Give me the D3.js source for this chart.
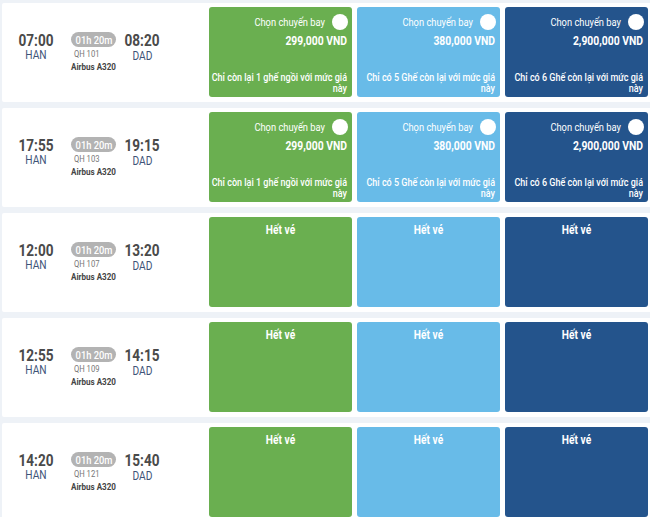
<!DOCTYPE html>
<html>
<head>
<meta charset="utf-8">
<script src="https://cdn.jsdelivr.net/npm/d3@7"></script>
<style>
  html, body { margin: 0; padding: 0; background: #eef2f7; overflow: hidden; }
  svg { display: block; }
  text { font-family: Roboto, "Noto Sans", sans-serif; }
</style>
</head>
<body>
<script>
// ---- data ----
const departTimes = ["07:00", "17:55", "12:00", "12:55", "14:20"];
const arriveTimes = ["08:20", "19:15", "13:20", "14:15", "15:40"];
const origin = "HAN";
const destination = "DAD";
const durations = ["01h 20m", "01h 20m", "01h 20m", "01h 20m", "01h 20m"];
const flightCodes = ["QH 101", "QH 103", "QH 107", "QH 109", "QH 121"];
const aircraft = ["Airbus A320", "Airbus A320", "Airbus A320", "Airbus A320", "Airbus A320"];
const fareClasses = ["Economy", "Plus", "Business"];
const fareColors = ["#6aaf50", "#68bbe8", "#24548c"];
// prices per row per class (null = sold out)
const prices = [
  ["299,000 VND", "380,000 VND", "2,900,000 VND"],
  ["299,000 VND", "380,000 VND", "2,900,000 VND"],
  [null, null, null],
  [null, null, null],
  [null, null, null]
];
const seatNotes = [
  ["Chỉ còn lại 1 ghế ngồi với mức giá", "Chỉ có 5 Ghế còn lại với mức giá", "Chỉ có 6 Ghế còn lại với mức giá"],
  ["Chỉ còn lại 1 ghế ngồi với mức giá", "Chỉ có 5 Ghế còn lại với mức giá", "Chỉ có 6 Ghế còn lại với mức giá"]
];
const seatNoteTail = "này";
const selectLabel = "Chọn chuyến bay";
const soldOutLabel = "Hết vé";

// ---- layout ----
const W = 650, H = 517;
const svg = d3.select("body").append("svg").attr("width", W).attr("height", H);
svg.append("rect").attr("width", W).attr("height", H).attr("fill", "#eef2f7");

const rows = d3.range(departTimes.length);
const y = d3.scaleBand().domain(rows).range([3, 522]).paddingInner(6 / 105).paddingOuter(0);
const x = d3.scaleBand().domain(fareClasses).range([209, 648]).paddingInner(5 / 148).paddingOuter(0);
const color = d3.scaleOrdinal().domain(fareClasses).range(fareColors);

const SX = 0.85; // condensed look

function ctext(g, tx, ty, str, opts) {
  const t = g.append("text")
    .attr("transform", `translate(${tx},${ty}) scale(${opts.sx || SX},1)`)
    .attr("text-anchor", opts.anchor || "start")
    .attr("font-size", opts.size)
    .attr("font-weight", opts.weight || 400)
    .attr("fill", opts.fill)
    .text(str);
  return t;
}

const row = svg.selectAll("g.row").data(rows).join("g").attr("class", "row")
  .attr("transform", d => `translate(0,${y(d)})`);

row.append("rect").attr("x", 2).attr("y", 0).attr("width", W).attr("height", y.bandwidth())
  .attr("fill", "#ffffff").attr("rx", 2);

row.each(function(i) {
  const g = d3.select(this);
  // left info
  ctext(g, 36, 42.5, departTimes[i], {anchor: "middle", size: 16, weight: 700, fill: "#4a4a4a"});
  ctext(g, 36, 56, origin, {anchor: "middle", size: 12, weight: 400, fill: "#3e5378"});
  g.append("rect").attr("x", 71).attr("y", 29).attr("width", 45).attr("height", 15)
    .attr("rx", 7.5).attr("fill", "#b3b3b3");
  ctext(g, 94, 41, durations[i], {anchor: "middle", size: 11, weight: 500, fill: "#ffffff"});
  ctext(g, 74, 54, flightCodes[i], {size: 9, weight: 400, fill: "#777777"});
  ctext(g, 71, 67, aircraft[i], {size: 9.5, weight: 700, fill: "#444444"});
  ctext(g, 142, 42.5, arriveTimes[i], {anchor: "middle", size: 16, weight: 700, fill: "#4a4a4a"});
  ctext(g, 142.5, 57, destination, {anchor: "middle", size: 12, weight: 400, fill: "#3e5378"});

  // fare boxes
  fareClasses.forEach((fc, j) => {
    const bx = x(fc), bw = x.bandwidth();
    const by = 4, bh = 90;
    g.append("rect").attr("x", bx).attr("y", by).attr("width", bw).attr("height", bh)
      .attr("rx", 3).attr("fill", color(fc));
    const price = prices[i][j];
    if (price) {
      const right = bx + bw - 5;
      g.append("circle").attr("cx", bx + bw - 12).attr("cy", by + 15).attr("r", 8).attr("fill", "#ffffff");
      ctext(g, bx + bw - 27, by + 19, selectLabel, {anchor: "end", size: 11, weight: 400, fill: "#ffffff"});
      ctext(g, right, by + 38, price, {anchor: "end", size: 12.5, weight: 700, fill: "#ffffff", sx: 0.83});
      ctext(g, right, by + 74, seatNotes[i][j], {anchor: "end", size: 11, weight: 500, fill: "#ffffff", sx: 0.82});
      ctext(g, right, by + 85, seatNoteTail, {anchor: "end", size: 11, weight: 500, fill: "#ffffff", sx: 0.82});
    } else {
      ctext(g, bx + bw / 2, by + 17, soldOutLabel, {anchor: "middle", size: 12, weight: 700, fill: "#ffffff"});
    }
  });
});
</script>
</body>
</html>
